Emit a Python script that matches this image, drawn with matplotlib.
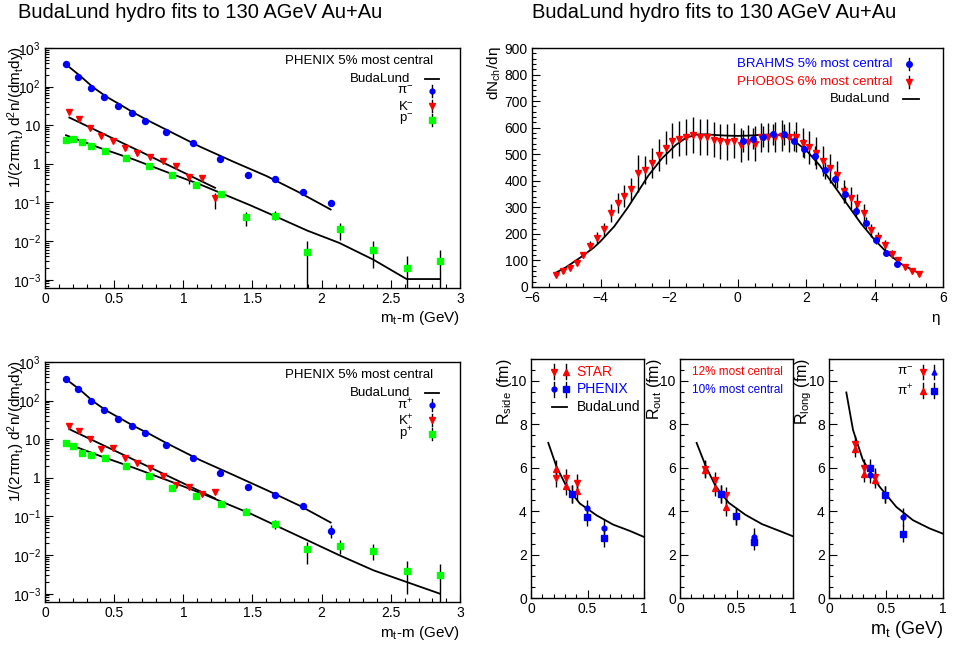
import numpy as np
import matplotlib
matplotlib.use('Agg')
import matplotlib.pyplot as plt
from matplotlib.ticker import MultipleLocator, LogLocator, NullFormatter

plt.rcParams['font.family'] = ['Liberation Sans', 'DejaVu Sans']
plt.rcParams['mathtext.fontset'] = 'custom'
plt.rcParams['mathtext.rm'] = 'Liberation Sans'
plt.rcParams['mathtext.it'] = 'Liberation Sans:italic'
plt.rcParams['mathtext.bf'] = 'Liberation Sans:bold'
plt.rcParams['mathtext.sf'] = 'Liberation Sans'

BLUE, RED, GREEN = '#0000ff', '#ff0000', '#00ff00'

# --- PHENIX spectra, 5% most central (mt-m in GeV) ---
pi_x = [0.149, 0.241, 0.333, 0.429, 0.525, 0.627, 0.723, 0.872, 1.07, 1.267, 1.465, 1.665, 1.865, 2.065]
k_x = [0.176, 0.246, 0.325, 0.405, 0.492, 0.578, 0.667, 0.759, 0.853, 0.945, 1.039, 1.135, 1.229]
p_x = [0.152, 0.205, 0.268, 0.330, 0.434, 0.588, 0.752, 0.918, 1.094, 1.270, 1.455, 1.663, 1.896,
       2.133, 2.374, 2.614, 2.855]

pim_y = [392, 180, 89.5, 53, 31, 20.5, 13.2, 6.7, 3.4, 1.34, 0.51, 0.41, 0.19, 0.096]
pim_lo = [392, 180, 89.5, 53, 31, 20.5, 13.2, 6.7, 3.4, 1.34, 0.51, 0.41, 0.18, 0.085]
pim_hi = [392, 180, 89.5, 53, 31, 20.5, 13.2, 6.7, 3.4, 1.34, 0.51, 0.41, 0.20, 0.108]
km_y = [22.2, 14.3, 8.5, 5.3, 3.84, 2.63, 1.87, 1.50, 1.21, 0.90, 0.455, 0.437, 0.132]
km_lo = [22.2, 14.3, 8.5, 5.3, 3.84, 2.63, 1.87, 1.50, 1.21, 0.90, 0.294, 0.358, 0.0658]
km_hi = [22.2, 14.3, 8.5, 5.3, 3.84, 2.63, 1.87, 1.50, 1.21, 0.90, 0.533, 0.513, 0.178]
pm_y = [4.24, 4.42, 3.69, 2.90, 2.11, 1.42, 0.88, 0.50, 0.277, 0.168, 0.0425, 0.0459, 0.00513,
        0.0203, 0.0060, 0.00201, 0.00305]
pm_lo = [4.24, 4.42, 3.69, 2.90, 2.11, 1.42, 0.88, 0.50, 0.277, 0.155, 0.0253, 0.0348, 1e-5,
         0.0109, 0.0020, 1e-5, 1e-5]
pm_hi = [4.24, 4.42, 3.69, 2.90, 2.11, 1.42, 0.88, 0.50, 0.277, 0.182, 0.0561, 0.0596, 0.0099,
         0.0296, 0.0099, 0.00404, 0.0060]

pip_y = [369, 195, 99, 57.8, 33.1, 21.8, 14.3, 7.27, 3.27, 1.36, 0.566, 0.351, 0.185, 0.0433]
pip_lo = [369, 195, 99, 57.8, 33.1, 21.8, 14.3, 7.27, 3.27, 1.36, 0.566, 0.351, 0.175, 0.0285]
pip_hi = [369, 195, 99, 57.8, 33.1, 21.8, 14.3, 7.27, 3.27, 1.36, 0.566, 0.351, 0.195, 0.0596]
kp_y = [22.6, 16.4, 10, 5.7, 5.96, 3.2, 2.43, 1.76, 1.14, 0.638, 0.578, 0.380, 0.42]
kp_lo = [22.6, 16.4, 10, 5.7, 5.96, 3.2, 2.43, 1.76, 1.14, 0.638, 0.578, 0.33, 0.38]
kp_hi = [22.6, 16.4, 10, 5.7, 5.96, 3.2, 2.43, 1.76, 1.14, 0.638, 0.578, 0.43, 0.46]
pp_y = [8.19, 6.71, 4.42, 3.92, 3.21, 2.03, 1.14, 0.544, 0.337, 0.205, 0.130, 0.0632, 0.0142,
        0.0169, 0.0131, 0.00395, 0.00299]
pp_lo = [8.19, 6.71, 4.42, 3.92, 3.21, 2.03, 1.14, 0.544, 0.337, 0.19, 0.108, 0.0488, 0.0060,
         0.0109, 0.00735, 0.001, 1e-5]
pp_hi = [8.19, 6.71, 4.42, 3.92, 3.21, 2.03, 1.14, 0.544, 0.337, 0.22, 0.161, 0.0803, 0.022,
         0.0243, 0.0191, 0.00705, 0.0060]

# BudaLund fits to the spectra
pi_fit_x = [0.157, 0.253, 0.349, 0.446, 0.542, 0.639, 0.759, 0.880, 1.120, 1.361, 1.602, 1.843, 2.065]
pim_fit_y = [362, 191, 95, 54.4, 34.4, 21.3, 12.5, 7.56, 2.79, 1.14, 0.483, 0.178, 0.0658]
pip_fit_y = [348, 191, 95, 54.5, 35.1, 22.2, 13.5, 7.87, 2.90, 1.19, 0.483, 0.189, 0.0698]
k_fit_x = [0.176, 0.70, 1.229]
km_fit_y = [15.8, 2.0, 0.240]
kp_fit_y = [18.2, 2.35, 0.294]
p_fit_x = [0.152, 0.398, 0.639, 0.880, 1.120, 1.267, 1.482, 1.663, 1.896, 2.128, 2.374, 2.614, 2.855]
pm_fit_y = [5.50, 2.58, 1.31, 0.614, 0.294, 0.178, 0.0853, 0.0442, 0.0187, 0.00896, 0.0033,
            0.00104, 0.00104]
pp_fit_y = [7.87, 3.69, 1.84, 0.879, 0.412, 0.250, 0.120, 0.0596, 0.0243, 0.0099, 0.00404,
            0.00201, 0.001]

log_ticks = [1e-3, 1e-2, 1e-1, 1, 10, 100, 1000]
log_labels = [r'$10^{-3}$', r'$10^{-2}$', r'$10^{-1}$', '1', '10', r'$10^{2}$', r'$10^{3}$']
mt_ticks = [0, 0.5, 1, 1.5, 2, 2.5, 3]
mt_labels = ['0', '0.5', '1', '1.5', '2', '2.5', '3']

# --- dN/deta ---
phobos_eta = [-5.3, -5.1, -4.9, -4.7, -4.5, -4.3, -4.1, -3.9, -3.7, -3.5, -3.3, -3.1, -2.9, -2.7,
              -2.5, -2.3, -2.1, -1.9, -1.7, -1.5, -1.3, -1.1, -0.9, -0.7, -0.5, -0.3, -0.1, 0.1,
              0.3, 0.5, 0.7, 0.9, 1.1, 1.3, 1.5, 1.7, 1.9, 2.1, 2.3, 2.5, 2.7, 2.9, 3.1, 3.3,
              3.5, 3.7, 3.9, 4.1, 4.3, 4.5, 4.7, 4.9, 5.1, 5.3]
phobos_dn = [47, 60, 73, 92, 121, 156, 186, 217, 278, 315, 342, 368, 428, 439, 468, 497, 525,
             551, 559, 564, 573, 566, 565, 555, 549, 546, 551, 534, 545, 540, 563, 563, 564,
             570, 566, 564, 544, 526, 504, 475, 447, 422, 360, 335, 312, 279, 213, 186, 157,
             126, 101, 76, 59, 48]
phobos_err = [6, 7, 8, 10, 12, 16, 20, 24, 34, 38, 41, 44, 70, 53, 56, 60, 63, 66, 67, 68, 69,
              68, 68, 67, 66, 66, 66, 64, 65, 65, 56, 56, 56, 57, 57, 56, 54, 63, 60, 57, 54,
              51, 43, 40, 37, 33, 26, 22, 19, 15, 12, 9, 7, 6]
brahms_eta = [0.15, 0.45, 0.75, 1.05, 1.35, 1.65, 1.95, 2.25, 2.55, 2.85, 3.15, 3.45, 3.75,
              4.05, 4.35, 4.65]
brahms_dn = [550, 559, 566, 575, 575, 550, 520, 495, 439, 407, 351, 287, 242, 177, 128, 88]
brahms_err = [40, 40, 40, 40, 40, 38, 36, 35, 31, 30, 28, 25, 22, 16, 12, 9]
bl_eta = [-5.3, -5.0, -4.6, -4.2, -4.0, -3.6, -3.2, -3.0, -2.6, -2.2, -1.8, -1.5, -1.2, -0.9,
          -0.6, -0.3, 0.0, 0.3, 0.7, 1.0, 1.3, 1.6, 2.0, 2.4, 2.8, 3.2, 3.6, 4.0, 4.4, 4.8, 5.3]
bl_dn = [54, 75, 110, 148, 172, 228, 300, 340, 420, 485, 535, 562, 574, 575, 572, 570, 569,
         570, 573, 574, 572, 555, 516, 458, 385, 312, 240, 178, 125, 85, 52]

# --- HBT radii vs mt ---
star_side_x = [0.22, 0.309, 0.406]
star_side_m = [5.53, 5.53, 5.30]
star_side_p = [5.93, 5.15, 4.92]
phx_side_x = [0.359, 0.494, 0.647]
phx_side_m = [4.78, 4.13, 3.23]
phx_side_p = [4.78, 3.73, 2.76]
bl_side_x = [0.153, 0.226, 0.315, 0.432, 0.579, 0.726, 0.874, 1.0]
bl_side = [7.14, 6.04, 5.12, 4.35, 3.81, 3.38, 3.09, 2.81]

star_out_x = [0.224, 0.310, 0.411]
star_out_m = [5.96, 5.42, 4.73]
star_out_p = [5.91, 5.08, 4.19]
phx_out_x = [0.363, 0.499, 0.652]
phx_out_m = [4.78, 3.76, 2.81]
phx_out_p = [4.78, 3.76, 2.60]
bl_out_x = [0.147, 0.23, 0.315, 0.432, 0.579, 0.726, 0.874, 1.0]
bl_out = [7.14, 6.04, 5.15, 4.38, 3.83, 3.40, 3.10, 2.84]

star_long_x = [0.225, 0.307, 0.406]
star_long_m = [7.07, 6.0, 5.58]
star_long_p = [6.88, 5.73, 5.45]
phx_long_x = [0.363, 0.494, 0.649]
phx_long_m = [5.68, 4.76, 3.73]
phx_long_p = [6.0, 4.76, 2.96]
bl_long_x = [0.152, 0.211, 0.298, 0.444, 0.591, 0.737, 0.883, 1.0]
bl_long = [9.46, 7.73, 6.34, 5.12, 4.19, 3.58, 3.20, 2.96]
hbt_err = 0.4

# ------------------------------------------------------------------
W, H = 956, 646
fig = plt.figure(figsize=(W / 100, H / 100), dpi=100)


def box(l, t, r, b):
    return [l / W, 1 - b / H, (r - l) / W, (b - t) / H]


def root_style(ax, lab=10):
    for s in ax.spines.values():
        s.set_linewidth(1.0)
    ax.tick_params(which='both', direction='in', top=False, right=False, labelsize=lab, pad=3)
    ax.tick_params(which='major', length=5.5, width=0.8)
    ax.tick_params(which='minor', length=2.8, width=0.8)


def leg_marker(ax, x, y, marker, color, ms, bar=0.025):
    ax.plot([x, x], [y - bar, y + bar], color='k', lw=1, transform=ax.transAxes, clip_on=False)
    ax.plot([x], [y], marker=marker, color=color, mec=color, ms=ms, ls='none',
            transform=ax.transAxes, clip_on=False)


def spectra(ax, series, fits, names):
    for x, y, lo, hi, mk, col, ms in series:
        y = np.array(y)
        err = [y - np.array(lo), np.array(hi) - y]
        ax.errorbar(x, y, yerr=err, fmt=mk, color=col, mec=col, ms=ms, ecolor='k',
                    elinewidth=1, capsize=0)
    for fx, fy in fits:
        ax.plot(fx, fy, color='k', lw=1.3)
    ax.set_yscale('log')
    ax.set_xlim(0, 3)
    ax.set_ylim(6.1e-4, 1000)
    root_style(ax)
    ax.set_xticks(mt_ticks)
    ax.set_xticklabels(mt_labels)
    ax.xaxis.set_minor_locator(MultipleLocator(0.1))
    ax.set_yticks(log_ticks)
    ax.set_yticklabels(log_labels)
    ax.yaxis.set_minor_locator(LogLocator(base=10, subs=np.arange(2, 10)))
    ax.yaxis.set_minor_formatter(NullFormatter())
    ax.text(0.935, 0.945, 'PHENIX 5% most central', transform=ax.transAxes, ha='right',
            va='center', fontsize=9.5)
    ax.text(0.88, 0.872, 'BudaLund', transform=ax.transAxes, ha='right', va='center',
            fontsize=9.5)
    ax.plot([0.916, 0.949], [0.872, 0.872], color='k', lw=1.3, transform=ax.transAxes)
    for (yy, name, mk, col, ms) in zip([0.82, 0.757, 0.702], names, ['o', 'v', 's'],
                                        [BLUE, RED, GREEN], [3.5, 4.5, 4]):
        ax.text(0.888, yy, name, transform=ax.transAxes, ha='right', va='center', fontsize=9.5)
        leg_marker(ax, 0.933, yy, mk, col, ms)


ylab_spec = r'1/(2πm$_{\rm t}$) d$^{\rm 2}$n/(dm$_{\rm t}$dy)'

# top-left: negative particles
ax_tl = fig.add_axes(box(45, 48, 460, 288))
spectra(ax_tl,
        [(pi_x, pim_y, pim_lo, pim_hi, 'o', BLUE, 4.3),
         (k_x, km_y, km_lo, km_hi, 'v', RED, 5),
         (p_x, pm_y, pm_lo, pm_hi, 's', GREEN, 4.3)],
        [(pi_fit_x, pim_fit_y), (k_fit_x, km_fit_y), (p_fit_x, pm_fit_y)],
        ['π$^{-}$', 'K$^{-}$', 'p$^{-}$'])

# bottom-left: positive particles
ax_bl = fig.add_axes(box(45, 362, 460, 602))
spectra(ax_bl,
        [(pi_x, pip_y, pip_lo, pip_hi, 'o', BLUE, 4.3),
         (k_x, kp_y, kp_lo, kp_hi, 'v', RED, 5),
         (p_x, pp_y, pp_lo, pp_hi, 's', GREEN, 4.3)],
        [(pi_fit_x, pip_fit_y), (k_fit_x, kp_fit_y), (p_fit_x, pp_fit_y)],
        ['π$^{+}$', 'K$^{+}$', 'p$^{+}$'])

fig.text(16 / W, 1 - 46 / H, ylab_spec, rotation=90, ha='center', va='top', fontsize=11)
fig.text(16 / W, 1 - 360 / H, ylab_spec, rotation=90, ha='center', va='top', fontsize=11)
fig.text(460 / W, 1 - 318 / H, r'm$_{\rm t}$-m (GeV)', ha='right', va='center', fontsize=11)
fig.text(460 / W, 1 - 633 / H, r'm$_{\rm t}$-m (GeV)', ha='right', va='center', fontsize=11)

# top-right: pseudorapidity distribution
ax_tr = fig.add_axes(box(532, 48, 943, 287))
ax_tr.errorbar(phobos_eta, phobos_dn, yerr=phobos_err, fmt='v', color=RED, mec=RED, ms=4,
               ecolor='k', elinewidth=1, capsize=0)
ax_tr.errorbar(brahms_eta, brahms_dn, yerr=brahms_err, fmt='o', color=BLUE, mec=BLUE, ms=4,
               ecolor='k', elinewidth=1, capsize=0)
ax_tr.plot(bl_eta, bl_dn, color='k', lw=1.3)
ax_tr.set_xlim(-6, 6)
ax_tr.set_ylim(0, 900)
root_style(ax_tr)
ax_tr.xaxis.set_major_locator(MultipleLocator(2))
ax_tr.xaxis.set_minor_locator(MultipleLocator(0.5))
ax_tr.yaxis.set_major_locator(MultipleLocator(100))
ax_tr.yaxis.set_minor_locator(MultipleLocator(20))
ax_tr.text(0.876, 0.932, 'BRAHMS 5% most central', color=BLUE, transform=ax_tr.transAxes,
           ha='right', va='center', fontsize=9.5)
ax_tr.text(0.876, 0.857, 'PHOBOS 6% most central', color=RED, transform=ax_tr.transAxes,
           ha='right', va='center', fontsize=9.5)
ax_tr.text(0.871, 0.785, 'BudaLund', transform=ax_tr.transAxes, ha='right', va='center',
           fontsize=9.5)
leg_marker(ax_tr, 0.917, 0.932, 'o', BLUE, 4)
leg_marker(ax_tr, 0.917, 0.857, 'v', RED, 4)
ax_tr.plot([0.902, 0.941], [0.785, 0.785], color='k', lw=1.3, transform=ax_tr.transAxes)
fig.text(494 / W, 1 - 46 / H, 'dN$_{\\rm ch}$/dη', rotation=90, ha='center', va='top',
         fontsize=11)
fig.text(940 / W, 1 - 318 / H, 'η', ha='right', va='center', fontsize=11)

# bottom-right: HBT radii
hbt = [(box(531, 359, 644, 598), r'R$_{\rm side}$ (fm)', 505,
        star_side_x, star_side_m, star_side_p, phx_side_x, phx_side_m, phx_side_p,
        bl_side_x, bl_side),
       (box(680, 359, 793, 598), r'R$_{\rm out}$ (fm)', 655,
        star_out_x, star_out_m, star_out_p, phx_out_x, phx_out_m, phx_out_p,
        bl_out_x, bl_out),
       (box(829, 359, 943, 598), r'R$_{\rm long}$ (fm)', 804,
        star_long_x, star_long_m, star_long_p, phx_long_x, phx_long_m, phx_long_p,
        bl_long_x, bl_long)]
axes_hbt = []
for pos, ylab, ylx, sx, sm, sp, px, pmv, ppv, bx, by in hbt:
    ax = fig.add_axes(pos)
    ax.errorbar(sx, sm, yerr=hbt_err, fmt='v', color=RED, mec=RED, ms=5, ecolor='k',
                elinewidth=1, capsize=0)
    ax.errorbar(sx, sp, yerr=hbt_err, fmt='^', color=RED, mec=RED, ms=5, ecolor='k',
                elinewidth=1, capsize=0)
    ax.errorbar(px, pmv, yerr=hbt_err, fmt='o', color=BLUE, mec=BLUE, ms=3.5, ecolor='k',
                elinewidth=1, capsize=0)
    ax.errorbar(px, ppv, yerr=hbt_err, fmt='s', color=BLUE, mec=BLUE, ms=4.3, ecolor='k',
                elinewidth=1, capsize=0)
    ax.plot(bx, by, color='k', lw=1.3)
    ax.set_xlim(0, 1)
    ax.set_ylim(0, 11)
    root_style(ax)
    ax.set_xticks([0, 0.5, 1])
    ax.set_xticklabels(['0', '0.5', '1'])
    ax.xaxis.set_minor_locator(MultipleLocator(0.1))
    ax.yaxis.set_major_locator(MultipleLocator(2))
    ax.yaxis.set_minor_locator(MultipleLocator(0.5))
    fig.text(ylx / W, 1 - 358 / H, ylab, rotation=90, ha='center', va='top', fontsize=11.5)
    axes_hbt.append(ax)

a1, a2, a3 = axes_hbt
a1.text(0.404, 0.947, 'STAR', color=RED, transform=a1.transAxes, va='center', fontsize=10)
a1.text(0.404, 0.873, 'PHENIX', color=BLUE, transform=a1.transAxes, va='center', fontsize=10)
a1.text(0.404, 0.798, 'BudaLund', transform=a1.transAxes, va='center', fontsize=10)
leg_marker(a1, 0.203, 0.947, 'v', RED, 5, bar=0.03)
leg_marker(a1, 0.307, 0.947, '^', RED, 5, bar=0.03)
leg_marker(a1, 0.203, 0.873, 'o', BLUE, 3.5, bar=0.03)
leg_marker(a1, 0.307, 0.873, 's', BLUE, 4.3, bar=0.03)
a1.plot([0.183, 0.321], [0.798, 0.798], color='k', lw=1.3, transform=a1.transAxes)

a2.text(0.109, 0.947, '12% most central', color=RED, transform=a2.transAxes, va='center',
        fontsize=8.5)
a2.text(0.109, 0.871, '10% most central', color=BLUE, transform=a2.transAxes, va='center',
        fontsize=8.5)

a3.text(0.599, 0.945, 'π$^{-}$', transform=a3.transAxes, va='center', fontsize=9.5)
a3.text(0.599, 0.868, 'π$^{+}$', transform=a3.transAxes, va='center', fontsize=9.5)
leg_marker(a3, 0.822, 0.945, 'v', RED, 5, bar=0.03)
leg_marker(a3, 0.921, 0.945, '^', BLUE, 3.5, bar=0.03)
leg_marker(a3, 0.822, 0.868, '^', RED, 5, bar=0.03)
leg_marker(a3, 0.921, 0.868, 's', BLUE, 4.3, bar=0.03)

fig.text(943 / W, 1 - 630 / H, r'm$_{\rm t}$ (GeV)', ha='right', va='center', fontsize=13)

# titles
fig.text(18 / W, 1 - 13 / H, 'BudaLund hydro fits to 130 AGeV Au+Au', ha='left', va='center',
         fontsize=14.5)
fig.text(532 / W, 1 - 13 / H, 'BudaLund hydro fits to 130 AGeV Au+Au', ha='left', va='center',
         fontsize=14.5)

fig.savefig('out.png', dpi=100, facecolor='white')
